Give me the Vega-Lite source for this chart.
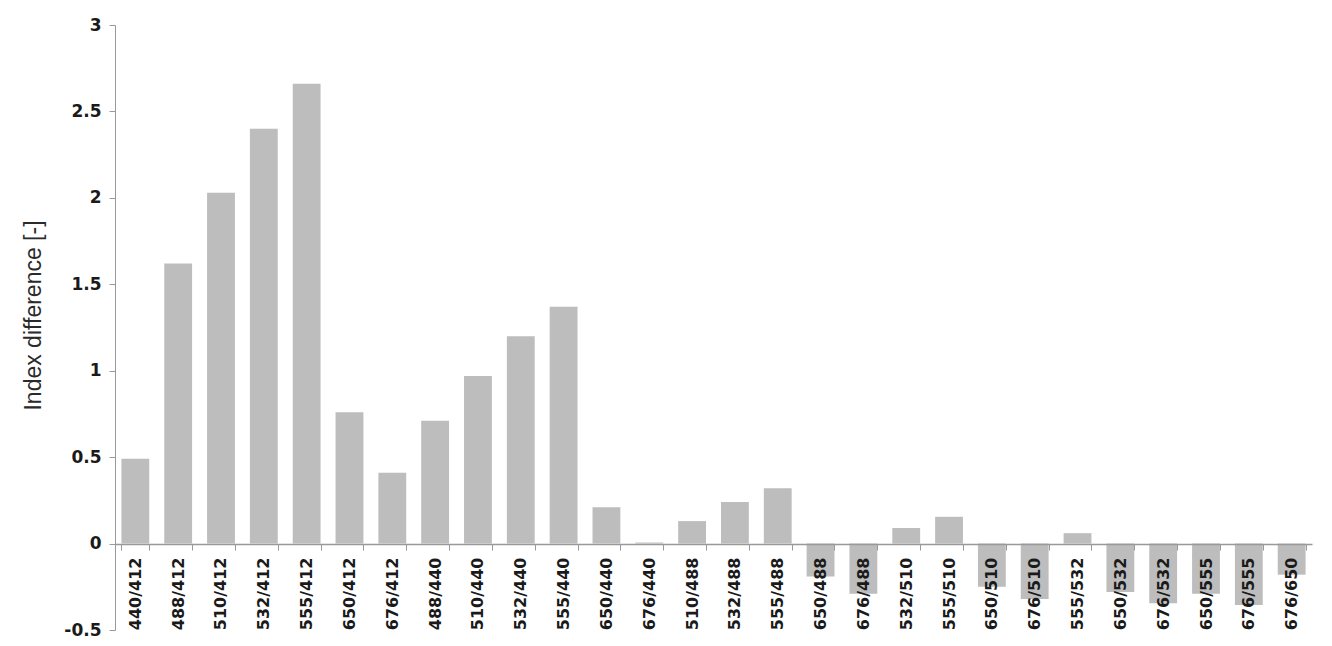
{
  "$schema": "https://vega.github.io/schema/vega-lite/v6.json",
  "autosize": {"type": "none"},
  "width": 1197,
  "height": 605,
  "padding": {"left": 115, "top": 25, "right": 20, "bottom": 16},
  "background": "white",
  "config": {"view": {"stroke": null}},
  "data": {"values": [
    {"ratio": "440/412", "diff": 0.49},
    {"ratio": "488/412", "diff": 1.62},
    {"ratio": "510/412", "diff": 2.03},
    {"ratio": "532/412", "diff": 2.40},
    {"ratio": "555/412", "diff": 2.66},
    {"ratio": "650/412", "diff": 0.76},
    {"ratio": "676/412", "diff": 0.41},
    {"ratio": "488/440", "diff": 0.71},
    {"ratio": "510/440", "diff": 0.97},
    {"ratio": "532/440", "diff": 1.20},
    {"ratio": "555/440", "diff": 1.37},
    {"ratio": "650/440", "diff": 0.21},
    {"ratio": "676/440", "diff": 0.006},
    {"ratio": "510/488", "diff": 0.13},
    {"ratio": "532/488", "diff": 0.24},
    {"ratio": "555/488", "diff": 0.32},
    {"ratio": "650/488", "diff": -0.19},
    {"ratio": "676/488", "diff": -0.29},
    {"ratio": "532/510", "diff": 0.09},
    {"ratio": "555/510", "diff": 0.155},
    {"ratio": "650/510", "diff": -0.25},
    {"ratio": "676/510", "diff": -0.32},
    {"ratio": "555/532", "diff": 0.06},
    {"ratio": "650/532", "diff": -0.28},
    {"ratio": "676/532", "diff": -0.345},
    {"ratio": "650/555", "diff": -0.29},
    {"ratio": "676/555", "diff": -0.355},
    {"ratio": "676/650", "diff": -0.18}
  ]},
  "mark": {"type": "bar", "color": "#bdbdbd"},
  "encoding": {
    "x": {
      "field": "ratio", "type": "nominal", "sort": null,
      "scale": {"paddingInner": 0.35, "paddingOuter": 0.15},
      "axis": {
        "title": null, "offset": -86, "zindex": 1, "labelAngle": -90, "labelAlign": "right", "labelBaseline": "middle",
        "labelFont": "DejaVu Sans", "labelFontWeight": "bold", "labelFontSize": 16, "labelColor": "#1a1a1a",
        "labelPadding": 7, "tickBand": "extent", "tickColor": "#999999", "tickSize": 6,
        "domainColor": "#999999", "domainWidth": 1.5, "grid": false
      }
    },
    "y": {
      "field": "diff", "type": "quantitative",
      "scale": {"domain": [-0.5, 3], "nice": false, "zero": false},
      "axis": {
        "title": "Index difference [-]", "titleFont": "Liberation Sans", "titleFontWeight": "normal",
        "titleFontSize": 23, "titleColor": "#2a2a2a", "titlePadding": 18, "titleY": 290,
        "values": [-0.5, 0, 0.5, 1, 1.5, 2, 2.5, 3],
        "labelExpr": "toString(datum.value)",
        "labelFont": "DejaVu Sans", "labelFontWeight": "bold", "labelFontSize": 17, "labelColor": "#1a1a1a",
        "labelPadding": 8, "tickColor": "#999999", "tickSize": 6, "domainColor": "#999999", "grid": false
      }
    }
  }
}
